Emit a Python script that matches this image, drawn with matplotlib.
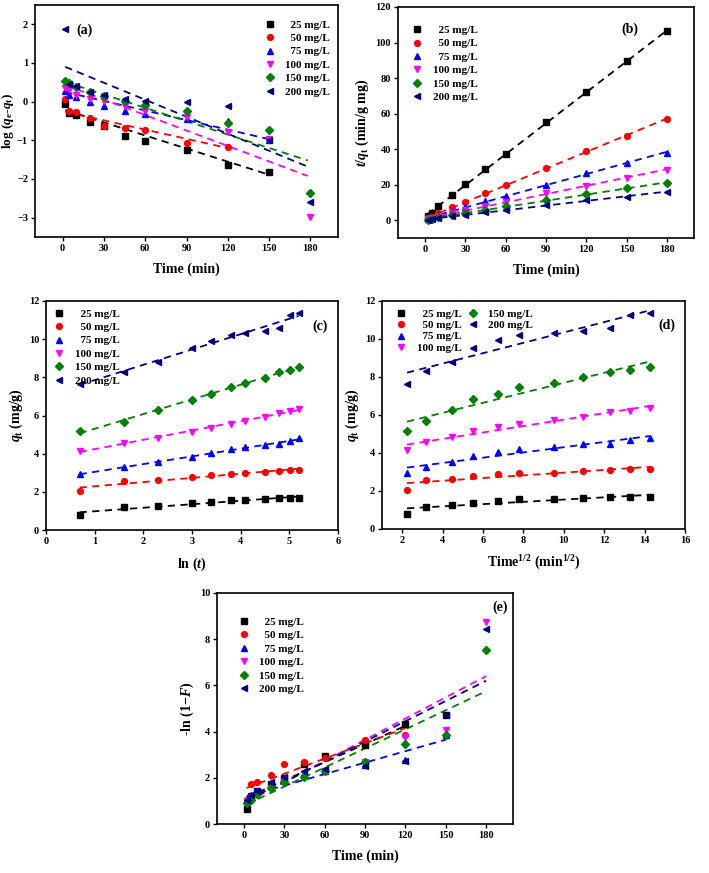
import numpy as np
import matplotlib
matplotlib.use("Agg")
import matplotlib.pyplot as plt

plt.rcParams["font.family"] = ["Liberation Serif", "DejaVu Serif"]
plt.rcParams["font.weight"] = "bold"
plt.rcParams["axes.labelweight"] = "bold"
plt.rcParams["mathtext.fontset"] = "custom"
plt.rcParams["mathtext.rm"] = "Liberation Serif:bold"
plt.rcParams["mathtext.it"] = "Liberation Serif:italic:bold"
plt.rcParams["mathtext.bf"] = "Liberation Serif:bold"

labels = ["  25 mg/L", "  50 mg/L", "  75 mg/L", "100 mg/L", "150 mg/L", "200 mg/L"]
colors = ["black", "red", "blue", "magenta", "green", "navy"]
markers = ["s", "o", "^", "v", "D", "<"]

time = [2, 5, 10, 20, 30, 45, 60, 90, 120, 150, 180]

# (a) pseudo-first-order, log(qe-qt)
a_25 = [-0.05, -0.29, -0.35, -0.53, -0.62, -0.90, -1.03, -1.24, -1.63, -1.82]
a_50 = [0.06, -0.24, -0.28, -0.41, -0.63, -0.67, -0.73, -1.07, -1.18]
a_75 = [0.27, 0.17, 0.13, -0.02, -0.10, -0.23, -0.33, -0.46, -0.50, -0.99]
a_100 = [0.35, 0.30, 0.17, 0.07, 0.02, -0.10, -0.23, -0.39, -0.79, -0.96, -2.98]
a_150 = [0.54, 0.49, 0.38, 0.24, 0.15, 0.02, -0.09, -0.24, -0.56, -0.73, -2.35]
a_200 = [1.89, 0.45, 0.41, 0.26, 0.17, 0.07, 0.03, -0.02, -0.11, -0.99, -2.60]
fit_a_t = [[2, 150], [2, 120], [2, 150], [2, 178], [2, 178], [2, 178]]
fit_a_y = [[-0.22, -1.89], [-0.26, -1.20], [0.25, -0.97], [0.43, -1.92], [0.51, -1.52], [0.90, -1.68]]

# (b) pseudo-second-order, t/qt
b_25 = [2.5, 4.2, 8.0, 14.4, 20.6, 28.7, 37.5, 55.0, 72.0, 89.5, 106.3]
b_50 = [1.0, 1.9, 3.8, 7.2, 10.3, 15.3, 20.1, 29.3, 38.8, 47.5, 57.0]
b_75 = [0.7, 1.5, 2.8, 5.2, 7.5, 10.6, 13.8, 20.1, 26.7, 32.1, 37.8]
b_100 = [0.5, 1.1, 2.1, 3.9, 5.6, 8.1, 10.5, 15.1, 19.5, 24.0, 28.3]
b_150 = [0.4, 0.9, 1.6, 2.9, 4.2, 6.0, 7.8, 11.3, 14.5, 17.9, 21.0]
b_200 = [0.3, 0.6, 1.1, 2.1, 3.0, 4.4, 5.8, 8.6, 11.3, 13.3, 15.8]

# (c)/(d) qt values
q_25 = [0.79, 1.18, 1.24, 1.39, 1.46, 1.56, 1.59, 1.62, 1.66, 1.67, 1.69]
q_50 = [2.03, 2.57, 2.62, 2.77, 2.90, 2.93, 2.97, 3.06, 3.08, 3.15, 3.15]
q_75 = [2.95, 3.28, 3.55, 3.83, 4.03, 4.22, 4.33, 4.45, 4.50, 4.68, 4.80]
q_100 = [4.15, 4.58, 4.83, 5.15, 5.35, 5.55, 5.73, 5.92, 6.15, 6.22, 6.35]
q_150 = [5.18, 5.67, 6.28, 6.82, 7.13, 7.48, 7.68, 7.98, 8.28, 8.38, 8.55]
q_200 = [7.63, 8.30, 8.80, 9.55, 9.93, 10.20, 10.33, 10.42, 10.60, 11.25, 11.38]
ln_t = [0.69, 1.61, 2.30, 3.00, 3.40, 3.81, 4.09, 4.50, 4.79, 5.01, 5.19]
sqrt_t = [2.24, 3.18, 4.48, 5.50, 6.72, 7.77, 9.52, 10.97, 12.28, 13.28, 14.25]

# (e) -ln(1-F)
e_25 = [0.65, 1.20, 1.45, 1.75, 2.00, 2.60, 2.93, 3.40, 4.32, 4.72]
e_50 = [1.05, 1.72, 1.82, 2.13, 2.60, 2.70, 2.85, 3.65, 3.87]
e_75 = [1.10, 1.25, 1.45, 1.65, 1.95, 2.20, 2.30, 2.55, 2.78, 3.85]
e_100 = [1.00, 1.15, 1.35, 1.55, 1.85, 2.15, 2.30, 2.70, 3.75, 4.05, 8.75]
e_150 = [0.90, 1.05, 1.30, 1.58, 1.80, 2.05, 2.30, 2.70, 3.45, 3.85, 7.55]
e_200 = [1.05, 1.25, 1.45, 1.80, 2.05, 2.30, 2.40, 2.50, 2.72, 4.70, 8.42]
fit_e_t = [[2, 120], [2, 120], [2, 150], [2, 180], [2, 180], [2, 180]]
fit_e_y = [[1.15, 4.25], [1.56, 4.15], [1.20, 3.65], [0.95, 6.40], [0.85, 5.75], [1.00, 6.20]]

W, H = 709, 873
fig = plt.figure(figsize=(W / 100, H / 100), dpi=100)


def make_ax(l, r, t, b):
    return fig.add_axes([l / W, 1 - b / H, (r - l) / W, (b - t) / H])


def style(ax):
    for s in ax.spines.values():
        s.set_linewidth(1.2)
    ax.tick_params(direction="out", length=3, width=1, labelsize=7.5, pad=2)
    for lab in ax.get_xticklabels() + ax.get_yticklabels():
        lab.set_fontweight("bold")


def points(ax, xs, ys_list):
    hs = []
    for i, ys in enumerate(ys_list):
        h, = ax.plot(xs[:len(ys)], ys, ls="none", marker=markers[i], color=colors[i],
                     ms=4.2 if markers[i] != "D" else 3.6, label=labels[i], zorder=3)
        hs.append(h)
    return hs


def fit_lines(ax, xs, ys_list):
    for i, ys in enumerate(ys_list):
        x = np.array(xs[:len(ys)])
        k, c = np.polyfit(x, ys, 1)
        ax.plot([x[0], x[-1]], [k * x[0] + c, k * x[-1] + c], ls=(0, (4, 3)),
                color=colors[i], lw=1.3, zorder=2)


def seg_lines(ax, ts, ys):
    for i in range(len(ts)):
        ax.plot(ts[i], ys[i], ls=(0, (4, 3)), color=colors[i], lw=1.3, zorder=2)


def legend(ax, hs, **kw):
    return ax.legend(handles=hs, frameon=False, fontsize=8, handlelength=1.0,
                     handletextpad=0.9, labelspacing=0.33, borderaxespad=0.3, **kw)


LS = 10  # axis label size

# (a)
ax = make_ax(35, 338, 5, 237)
hs = points(ax, time, [a_25, a_50, a_75, a_100, a_150, a_200])
seg_lines(ax, fit_a_t, fit_a_y)
ax.set_xlim(-20, 200)
ax.set_ylim(-3.5, 2.5)
ax.set_xticks([0, 30, 60, 90, 120, 150, 180])
ax.set_yticks([-3, -2, -1, 0, 1, 2])
ax.set_xlabel("Time (min)", fontsize=LS, labelpad=7)
ax.set_ylabel("log ($q_{\\rm e}$-$q_{\\rm t}$)", fontsize=9.5)
ax.yaxis.set_label_coords(-0.062, 0.5)
ax.text(10, 1.85, "(a)", fontsize=10, fontweight="bold", va="center")
legend(ax, hs, loc="upper right", bbox_to_anchor=(1.0, 0.97))
style(ax)

# (b)
ax = make_ax(398, 694, 7, 238)
hs = points(ax, time, [b_25, b_50, b_75, b_100, b_150, b_200])
fit_lines(ax, time, [b_25, b_50, b_75, b_100, b_150, b_200])
ax.set_xlim(-20, 200)
ax.set_ylim(-10, 120)
ax.set_xticks([0, 30, 60, 90, 120, 150, 180])
ax.set_yticks([0, 20, 40, 60, 80, 100, 120])
ax.set_xlabel("Time (min)", fontsize=LS, labelpad=7)
ax.set_ylabel("$t$/$q_{\\rm t}$ (min/g mg)", fontsize=LS, labelpad=3)
ax.text(146, 107.6, "(b)", fontsize=10, fontweight="bold", va="center")
legend(ax, hs, loc="upper left", bbox_to_anchor=(0.02, 0.955))
style(ax)

q_all = [q_25, q_50, q_75, q_100, q_150, q_200]

# (c)
ax = make_ax(46, 338, 301, 530)
hs = points(ax, ln_t, q_all)
fit_lines(ax, ln_t, q_all)
ax.set_xlim(0, 6)
ax.set_ylim(0, 12)
ax.set_xticks(range(0, 7))
ax.set_yticks(range(0, 13, 2))
ax.set_xlabel("ln ($t$)", fontsize=LS, labelpad=7)
ax.set_ylabel("$q_{\\rm t}$ (mg/g)", fontsize=LS, labelpad=3)
ax.text(5.47, 10.68, "(c)", fontsize=10, fontweight="bold", va="center")
legend(ax, hs, loc="upper left", bbox_to_anchor=(0.0, 1.0))
style(ax)

# (d)
ax = make_ax(382, 685, 301, 529)
hs = points(ax, sqrt_t, q_all)
fit_lines(ax, sqrt_t, q_all)
ax.set_xlim(1, 16)
ax.set_ylim(0, 12)
ax.set_xticks(range(2, 17, 2))
ax.set_yticks(range(0, 13, 2))
ax.set_xlabel("Time$^{1/2}$ (min$^{1/2}$)", fontsize=LS, labelpad=6)
ax.set_ylabel("$q_{\\rm t}$ (mg/g)", fontsize=LS, labelpad=3)
ax.text(14.7, 10.7, "(d)", fontsize=10, fontweight="bold", va="center")
leg1 = ax.legend(handles=hs[:4], frameon=False, fontsize=8, handlelength=1.0,
                 handletextpad=0.9, labelspacing=0.15, borderaxespad=0.3,
                 loc="upper left", bbox_to_anchor=(0.02, 1.0))
ax.add_artist(leg1)
ax.legend(handles=hs[4:], frameon=False, fontsize=8, handlelength=1.0,
          handletextpad=0.9, labelspacing=0.15, borderaxespad=0.3,
          loc="upper left", bbox_to_anchor=(0.255, 1.0))
style(ax)

# (e)
ax = make_ax(217, 513, 593, 824)
hs = points(ax, time, [e_25, e_50, e_75, e_100, e_150, e_200])
seg_lines(ax, fit_e_t, fit_e_y)
ax.set_xlim(-20, 200)
ax.set_ylim(0, 10)
ax.set_xticks([0, 30, 60, 90, 120, 150, 180])
ax.set_yticks(range(0, 11, 2))
ax.set_xlabel("Time (min)", fontsize=LS, labelpad=7)
ax.set_ylabel("-ln (1$-$$F$)", fontsize=LS, labelpad=3)
ax.text(185, 9.39, "(e)", fontsize=10, fontweight="bold", va="center")
legend(ax, hs, loc="upper left", bbox_to_anchor=(0.045, 0.93))
style(ax)

fig.savefig("out.png", dpi=100)
